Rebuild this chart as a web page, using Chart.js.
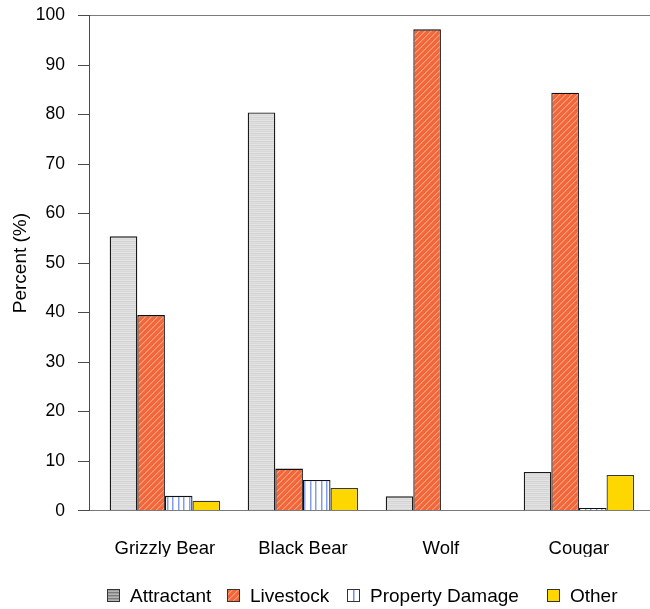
<!DOCTYPE html>
<html>
<head>
<meta charset="utf-8">
<script src="https://cdn.jsdelivr.net/npm/chart.js@4"></script>
<style>
  html, body { margin: 0; padding: 0; background: #fff; }
  canvas { display: block; }
</style>
</head>
<body>
<canvas id="chart" width="650" height="609"></canvas>
<script>
// Reason for conflict, percent of incidents per species
const categories = ['Grizzly Bear', 'Black Bear', 'Wolf', 'Cougar'];
const attractant = [55.4, 80.4, 2.9, 7.8];
const livestock = [39.5, 8.5, 97.2, 84.4];
const propertyDamage = [3.0, 6.2, 0, 0.55];
const other = [2.0, 4.6, 0, 7.2];
const seriesNames = ['Attractant', 'Livestock', 'Property Damage', 'Other'];

const canvas = document.getElementById('chart');
const ctx = canvas.getContext('2d');

function makePattern(w, h, paint) {
  const c = document.createElement('canvas');
  c.width = w; c.height = h;
  paint(c.getContext('2d'));
  return ctx.createPattern(c, 'repeat');
}

// fills
const grayStripes = makePattern(1, 4, g => {
  ['#e4e4e4', '#d3d3d3', '#dfdfdf', '#d8d8d8'].forEach((col, i) => { g.fillStyle = col; g.fillRect(0, i, 1, 1); });
});
const grayStripesDark = makePattern(1, 3, g => {
  ['#b4b4b4', '#7c7c7c', '#a0a0a0'].forEach((col, i) => { g.fillStyle = col; g.fillRect(0, i, 1, 1); });
});
const orangeHatch = makePattern(6, 6, g => {
  g.fillStyle = '#f2663a'; g.fillRect(0, 0, 6, 6);
  for (let i = 0; i < 6; i++) {
    g.fillStyle = '#fa9f7c'; g.fillRect(i, 5 - i, 1, 1);
    g.fillStyle = '#f6825a'; g.fillRect((i + 1) % 6, 5 - i, 1, 1);
  }
});
const blueLines = makePattern(11, 1, g => {
  g.fillStyle = '#ffffff'; g.fillRect(0, 0, 11, 1);
  g.fillStyle = '#7f9cf0'; g.fillRect(2, 0, 1, 1); g.fillRect(7, 0, 1, 1);
  g.fillStyle = '#c2d0f8'; g.fillRect(3, 0, 1, 1); g.fillRect(8, 0, 1, 1);
});
const gold = '#ffd700';

const fills = [grayStripes, orangeHatch, blueLines, gold];
const legendFills = [grayStripesDark, orangeHatch, blueLines, gold];
const borders = ['#1a1a1a', '#111111', '#111111', '#3a3a3a'];
const values = [attractant, livestock, propertyDamage, other];

Chart.defaults.font.family = "'Liberation Sans', Arial, Helvetica, sans-serif";
Chart.defaults.color = '#000';

// legend row along the bottom edge
const bottomLegend = {
  id: 'bottomLegend',
  afterDraw(chart) {
    const c = chart.ctx;
    const boxX = [107, 227, 347, 547];
    const boxSize = 13;
    const baseline = 602;
    c.save();
    c.font = "19px 'Liberation Sans', Arial, sans-serif";
    c.textBaseline = 'alphabetic';
    c.textAlign = 'left';
    chart.data.datasets.forEach((ds, i) => {
      const x = boxX[i];
      const y = 589;
      c.fillStyle = legendFills[i];
      c.fillRect(x, y, boxSize, boxSize);
      if (i === 2) {
        c.fillStyle = '#ffffff'; c.fillRect(x + 1, y + 1, boxSize - 2, boxSize - 2);
        c.fillStyle = '#6f8ef0'; c.fillRect(x + 6, y, 1.5, boxSize);
      }
      c.strokeStyle = '#333';
      c.lineWidth = 1;
      c.strokeRect(x + 0.5, y + 0.5, boxSize - 1, boxSize - 1);
      c.fillStyle = '#000';
      c.fillText(ds.label, x + boxSize + 10, baseline);
    });
    c.restore();
  }
};

new Chart(ctx, {
  type: 'bar',
  data: {
    datasets: seriesNames.map((name, s) => ({
      label: name,
      data: values[s].map((v, i) => ({ x: i, y: v })),
      backgroundColor: fills[s],
      borderColor: borders[s],
      borderWidth: 1.3,
      borderSkipped: 'bottom',
      categoryPercentage: 0.8,
      barPercentage: 1.0
    }))
  },
  options: {
    responsive: false,
    animation: false,
    devicePixelRatio: 1,
    layout: { padding: { left: 0, right: 0, top: 15.5, bottom: 52.3 } },
    plugins: { legend: { display: false }, tooltip: { enabled: false } },
    scales: {
      x: {
        type: 'linear',
        offset: false,
        min: -0.55,
        max: 3.515,
        grid: { display: false, drawTicks: false, offset: false },
        border: { display: false },
        afterBuildTicks: scale => { scale.ticks = categories.map((_, i) => ({ value: i })); },
        afterFit: scale => { scale.height = 46; scale.paddingLeft = 0; scale.paddingRight = 0; },
        ticks: {
          autoSkip: false,
          maxRotation: 0,
          padding: 27,
          font: { size: 18.5 },
          callback: v => categories[v]
        }
      },
      y: {
        min: 0,
        max: 100,
        afterFit: scale => { scale.width = 89; scale.paddingTop = 0; scale.paddingBottom = 0; },
        border: { display: true, color: '#4a4a4a', width: 1 },
        grid: {
          drawOnChartArea: true,
          color: c => (c.tick && (c.tick.value === 0 || c.tick.value === 100)) ? '#7a7a7a' : 'rgba(0,0,0,0)',
          tickColor: '#4a4a4a',
          tickLength: 11,
          lineWidth: 1
        },
        ticks: {
          stepSize: 10,
          padding: 13,
          font: { size: 17.5 }
        },
        title: {
          display: true,
          text: 'Percent (%)',
          font: { size: 19 },
          padding: { top: 9, bottom: 0 }
        }
      }
    }
  },
  plugins: [bottomLegend]
});
</script>
</body>
</html>
